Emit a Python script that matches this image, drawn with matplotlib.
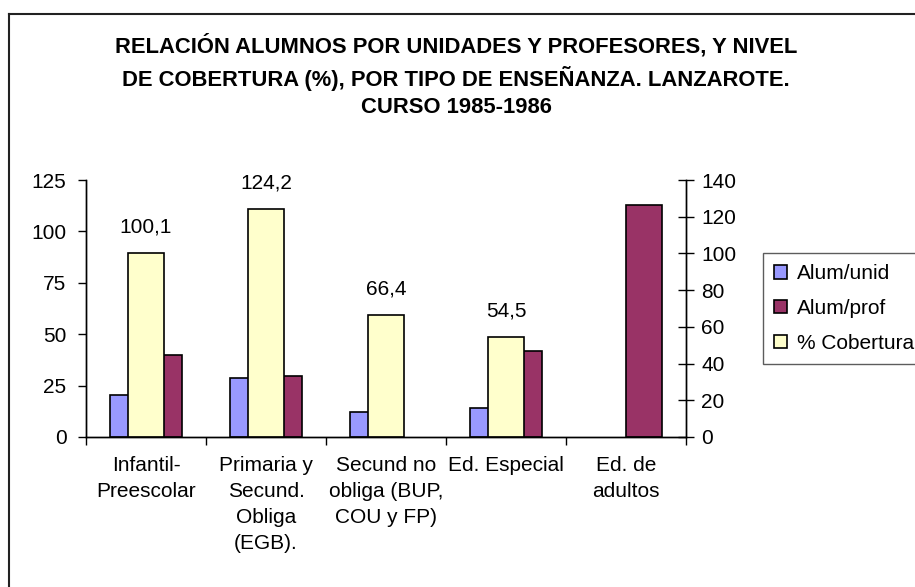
import matplotlib
matplotlib.use('Agg')
import matplotlib.pyplot as plt
from matplotlib.lines import Line2D
import numpy as np

plt.rcParams['font.family'] = ['Liberation Sans', 'DejaVu Sans']

categories = ['Infantil-\nPreescolar', 'Primaria y\nSecund.\nObliga\n(EGB).',
              'Secund no\nobliga (BUP,\nCOU y FP)', 'Ed. Especial', 'Ed. de\nadultos']
alum_unid = [20.4, 28.5, 12.0, 14.0, np.nan]
alum_prof = [39.9, 29.7, np.nan, 41.8, 112.8]
cobertura = [100.1, 124.2, 66.4, 54.5, np.nan]
cobertura_labels = ['100,1', '124,2', '66,4', '54,5', '']

W, H = 915, 587
fig = plt.figure(figsize=(W / 100, H / 100), dpi=100)

# outer chart frame (only top and left edges visible)
fig.add_artist(Line2D([9 / W, 9 / W], [0, 1 - 14 / H], color='#222222', lw=1.5,
                      transform=fig.transFigure))
fig.add_artist(Line2D([9 / W, 1], [1 - 14 / H, 1 - 14 / H], color='#222222', lw=1.5,
                      transform=fig.transFigure))

fig.text(456 / W, 1 - 76 / H,
         'RELACIÓN ALUMNOS POR UNIDADES Y PROFESORES, Y NIVEL\n'
         'DE COBERTURA (%), POR TIPO DE ENSEÑANZA. LANZAROTE.\n'
         'CURSO 1985-1986',
         ha='center', va='center', fontsize=15.8, fontweight='bold',
         linespacing=1.38)

ax = fig.add_axes([86 / W, 1 - 437 / H, 600 / W, 257 / H])
ax2 = ax.twinx()

x = np.arange(len(categories))
bw = 0.3
b1 = ax.bar(x - bw / 2, alum_unid, bw, color='#9999FF', edgecolor='black', lw=1.2)
b2 = ax.bar(x + bw / 2, alum_prof, bw, color='#993366', edgecolor='black', lw=1.2)
b3 = ax2.bar(x, cobertura, bw, color='#FFFFCC', edgecolor='black', lw=1.2)

for xi, v, lab in zip(x, cobertura, cobertura_labels):
    if lab:
        ax2.annotate(lab, (xi, v), xytext=(0, 19), textcoords='offset points',
                     ha='center', va='center', fontsize=15)

ax.set_xlim(-0.5, len(categories) - 0.5)
ax.set_ylim(0, 125)
ax2.set_ylim(0, 140)
ax.set_yticks([0, 25, 50, 75, 100, 125])
ax2.set_yticks(range(0, 141, 20))

ax.set_xticks(x)
ax.set_xticklabels(categories, fontsize=15)
for t in ax.get_xticklabels():
    t.set_linespacing(1.45)
ax.set_xticks(np.arange(-0.5, len(categories)), minor=True)
ax.tick_params(axis='x', which='major', length=0, pad=14)
ax.tick_params(axis='x', which='minor', length=6, width=1, direction='out')
ax.tick_params(axis='y', length=6, width=1, labelsize=15, pad=8)
ax2.tick_params(axis='y', length=12, width=1, direction='inout', labelsize=15, pad=5)

for a in (ax, ax2):
    a.spines['top'].set_visible(False)
    for s in ('left', 'right', 'bottom'):
        a.spines[s].set_linewidth(1)
        a.spines[s].set_color('black')

leg = fig.legend([b1, b2, b3], ['Alum/unid', 'Alum/prof', '% Cobertura'],
                 loc='upper left', bbox_to_anchor=(763 / W, 1 - 253 / H),
                 fontsize=15, frameon=True, fancybox=False, handlelength=0.6,
                 handleheight=0.6, handletextpad=0.5, borderpad=0.55,
                 labelspacing=0.75, borderaxespad=0)
leg.get_frame().set_edgecolor('#333333')
leg.get_frame().set_linewidth(1)

fig.savefig('out.png', dpi=100)
